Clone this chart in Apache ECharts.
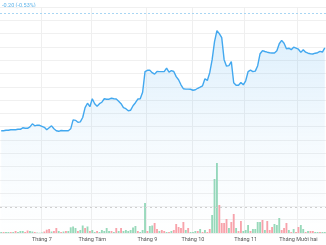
<!DOCTYPE html>
<html><head><meta charset="utf-8">
<script src="https://cdn.jsdelivr.net/npm/echarts@6/dist/echarts.min.js"></script>
<style>html,body{margin:0;padding:0;background:#fff}#c{width:326px;height:245px}</style>
</head><body><div id="c"></div>
<script>
// Trading-day categories (Vietnam, 2023)
const startDate = '2023-06-08';
const tradingDayCount = 136;
const holidays = ['2023-09-01', '2023-09-04'];
const monthLabels = {7:'Tháng 7', 8:'Tháng Tám', 9:'Tháng 9', 10:'Tháng 10', 11:'Tháng 11', 12:'Tháng Mười hai'};
const changeText = '-0.20 (-0.53%)';
const prevClose = 37.88;

const prices = [
 37.175,37.175,37.178,37.178,37.181,37.181,37.181,37.184,37.184,37.193,37.190,37.190,37.199,37.217,37.205,37.209,37.208,
 37.202,37.196,37.181,37.193,37.205,37.187,37.175,37.172,37.177,37.175,37.175,37.175,37.187,37.241,37.238,37.226,37.229,37.255,37.314,37.341,37.320,
 37.368,37.338,37.323,37.338,37.347,37.368,37.365,37.365,37.371,37.368,37.366,37.353,37.338,37.314,37.308,37.296,37.299,37.326,37.344,37.366,37.368,37.407,37.531,
 37.539,37.539,37.525,37.516,37.532,37.531,37.531,37.531,37.552,37.528,37.537,37.532,37.501,37.482,37.452,37.428,37.426,37.426,37.425,
 37.419,37.422,37.431,37.438,37.446,37.488,37.478,37.525,37.603,37.712,37.778,37.760,37.736,37.603,37.564,37.567,37.591,37.464,37.449,37.449,37.466,37.452,
 37.476,37.531,37.540,37.531,37.534,37.567,37.639,37.657,37.652,37.648,37.645,37.643,37.643,37.657,37.699,37.719,37.702,37.669,37.672,37.663,37.678,37.672,
 37.666,37.647,37.663,37.648,37.642,37.639,37.637,37.642,37.645,37.653,37.649,37.674
];
const volumes = [
 10,10,10,10,10,10,20,10,20,20,10,25,20,15,10,5,3,
 5,15,33,40,15,20,50,20,10,15,20,20,57,65,50,20,30,75,50,65,20,
 30,10,20,10,30,20,50,20,20,10,50,20,50,20,30,20,30,55,70,20,10,30,300,
 20,70,75,100,40,20,30,20,10,10,20,30,90,60,50,110,30,50,10,
 10,20,20,40,10,30,10,40,180,540,700,280,100,100,140,50,110,190,50,20,120,20,
 30,80,20,40,40,110,110,130,30,120,30,60,90,80,150,30,50,100,30,10,40,10,
 60,80,40,10,20,20,20,10,10,10,10,10
];
const volumeUp = [
 1,0,1,1,0,1,0,1,1,1,0,0,1,1,0,1,1,
 1,0,0,0,1,0,0,1,0,1,0,1,1,1,1,0,1,1,0,1,0,
 1,1,0,1,1,1,1,1,0,1,0,1,0,1,1,1,1,1,1,0,1,1,1,
 0,1,1,0,0,1,0,0,1,0,1,0,0,0,0,0,1,0,1,
 1,1,0,1,0,1,0,0,1,1,1,0,0,0,0,1,0,0,1,0,0,1,
 1,1,0,1,1,1,1,0,1,0,0,0,1,1,1,0,0,0,1,0,1,0,
 0,1,1,0,1,0,0,1,1,0,1,1
];
const avgVolume = 257;

// build categories
const dates = [];
(function(){
  let d = new Date(startDate + 'T00:00:00Z');
  while (dates.length < tradingDayCount) {
    const wd = d.getUTCDay();
    const s = d.toISOString().slice(0,10);
    if (wd !== 0 && wd !== 6 && holidays.indexOf(s) < 0) dates.push(s);
    d = new Date(d.getTime() + 86400000);
  }
})();
const monthStart = {};
dates.forEach((s,i)=>{ if (i>0 && s.slice(5,7) !== dates[i-1].slice(5,7)) monthStart[i] = +s.slice(5,7); });
const isStart = (i)=> monthStart[i] !== undefined;

const upColor = '#98d9ba', downColor = '#f8a3ab';
const chart = echarts.init(document.getElementById('c'), null, {renderer:'canvas'});
chart.setOption({
  animation:false,
  grid:{left:0,right:0,top:7,bottom:12},
  xAxis:{
    type:'category', data:dates, boundaryGap:true,
    axisLine:{show:false}, axisTick:{show:false, interval:(i)=>isStart(i)},
    axisLabel:{interval:(i)=>isStart(i), formatter:(v,i)=>monthLabels[+v.slice(5,7)], fontSize:5.5, color:'#555', margin:4, fontFamily:'Roboto'},
    splitLine:{show:true, interval:(i)=>isStart(i), lineStyle:{color:'#efefef', width:1}}
  },
  yAxis:[
    {type:'value', min:36.56, max:37.92, interval:0.08, axisLabel:{show:false}, axisLine:{show:false}, axisTick:{show:false},
     splitLine:{show:true, lineStyle:{color:'#f0f0f0', width:1}}},
    {type:'value', min:0, max:2260, axisLabel:{show:false}, axisLine:{show:false}, axisTick:{show:false}, splitLine:{show:false}}
  ],
  series:[
    {type:'bar', yAxisIndex:1, data:volumes.map((v,i)=>({value:v, itemStyle:{color: volumeUp[i] ? upColor : downColor}})),
     barCategoryGap:'22%', z:1,
     markLine:{silent:true, symbol:'none', label:{show:false}, data:[{yAxis:avgVolume}],
       lineStyle:{color:'#cfcfcf', type:[2,3], width:1.2}}},
    {type:'line', yAxisIndex:0, data:prices, showSymbol:false, symbol:'none', z:3,
     lineStyle:{color:'#42a8ef', width:1.4},
     areaStyle:{color:new echarts.graphic.LinearGradient(0,0,0,1,[
       {offset:0,color:'rgba(66,168,239,0.25)'},{offset:0.55,color:'rgba(66,168,239,0.08)'},{offset:1,color:'rgba(66,168,239,0)'}])},
     markLine:{silent:true, symbol:'none', label:{show:false}, data:[{yAxis:prevClose}],
       lineStyle:{color:'#a9d6f3', type:[2,2], width:1}}}
  ],
  graphic:[{type:'text', left:2, top:3, style:{text:changeText, fill:'#5cb3ea', font:'5.5px Roboto'}}]
});
</script></body></html>
